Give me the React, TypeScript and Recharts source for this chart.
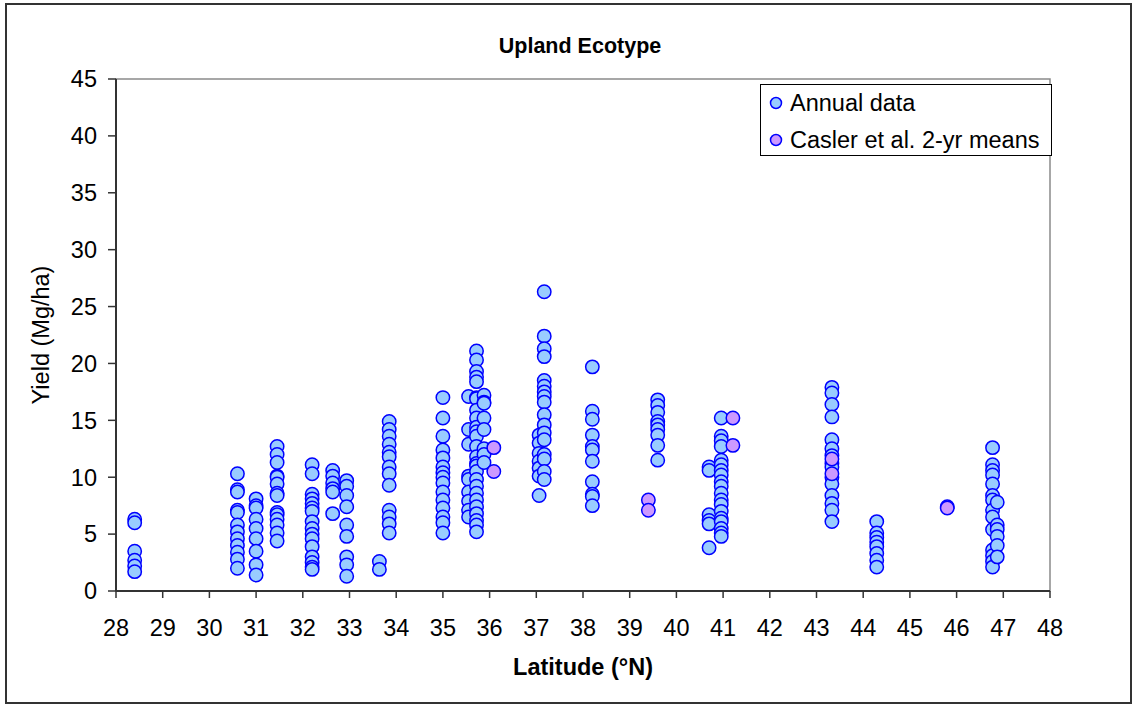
import React from "react";
import { ScatterChart, Scatter, XAxis, YAxis, Legend, ReferenceArea } from "recharts";

const annualLatitudes = [28.4, 30.6, 31.0, 31.45, 32.2, 32.64, 32.94, 33.64, 33.85, 35.0, 35.55, 35.72, 35.88, 37.06, 37.17, 38.2, 39.6, 40.7, 40.96, 43.33, 44.29, 46.77, 46.87];
const annualYields: number[][] = [
  [6.3, 6.0, 3.5, 2.7, 2.2, 1.7],
  [10.3, 8.9, 8.7, 7.1, 6.9, 5.8, 5.2, 4.6, 4.0, 3.4, 2.8, 2.0],
  [8.1, 7.5, 7.3, 6.3, 5.5, 4.6, 3.5, 2.3, 1.4],
  [12.7, 12.0, 11.3, 10.1, 10.0, 9.4, 8.6, 8.4, 6.9, 6.7, 6.3, 5.8, 5.1, 4.4],
  [11.1, 10.3, 8.5, 8.1, 7.7, 7.3, 7.0, 6.1, 5.5, 5.0, 4.6, 3.9, 3.0, 2.5, 2.1, 1.9],
  [10.6, 10.1, 9.5, 9.0, 8.7, 6.8],
  [9.7, 9.2, 8.4, 7.4, 5.8, 4.8, 3.0, 2.3, 1.3],
  [2.6, 1.9],
  [14.9, 14.2, 13.6, 12.9, 12.2, 11.8, 10.9, 10.3, 9.3, 7.1, 6.5, 5.9, 5.1],
  [17.0, 15.2, 13.6, 12.4, 11.7, 10.9, 10.4, 10.0, 9.5, 8.7, 8.0, 7.3, 6.5, 6.0, 5.1],
  [17.1, 14.2, 12.9, 10.1, 9.8, 8.7, 7.9, 7.1, 6.5],
  [21.1, 20.3, 19.3, 18.8, 18.4, 17.0, 16.9, 15.9, 15.2, 14.4, 14.0, 13.6, 12.7, 11.8, 11.2, 11.0, 10.5, 9.8, 9.2, 8.6, 8.0, 7.4, 6.8, 6.2, 5.8, 5.2],
  [17.2, 16.6, 16.5, 15.2, 14.2, 12.5, 12.0, 11.3],
  [13.7, 13.0, 12.1, 11.4, 10.8, 10.1, 8.4],
  [26.3, 22.4, 21.3, 20.6, 18.5, 18.0, 17.5, 17.1, 16.6, 15.5, 14.6, 13.9, 13.3, 12.0, 11.6, 10.5, 9.8],
  [19.7, 15.8, 15.1, 13.7, 12.7, 12.4, 11.4, 9.6, 8.5, 8.3, 7.5],
  [16.8, 16.3, 15.7, 14.9, 14.6, 14.2, 13.7, 12.8, 11.5],
  [10.9, 10.6, 6.7, 6.2, 5.9, 3.8],
  [15.2, 13.6, 13.2, 12.7, 11.5, 11.1, 10.6, 10.2, 9.6, 9.2, 8.6, 8.0, 7.6, 7.0, 6.4, 6.1, 5.5, 5.1, 4.8],
  [17.9, 17.4, 16.4, 15.3, 13.3, 12.5, 11.9, 11.2, 10.9, 10.0, 9.4, 8.4, 7.7, 7.1, 6.1],
  [6.1, 5.1, 4.7, 4.3, 3.9, 3.3, 2.7, 2.1],
  [12.6, 11.1, 10.6, 10.2, 9.4, 8.4, 8.0, 7.1, 6.5, 5.4, 3.6, 3.1, 2.6, 2.1],
  [7.8, 5.8, 5.4, 4.8, 4.0, 3.0],
];

const caslerLatitudes = [36.09, 39.4, 41.21, 43.33, 45.8];
const caslerYields: number[][] = [
  [12.6, 10.5],
  [8.0, 7.1],
  [15.2, 12.8],
  [11.6, 10.3],
  [7.4, 7.3],
];

const xTicks = [28, 29, 30, 31, 32, 33, 34, 35, 36, 37, 38, 39, 40, 41, 42, 43, 44, 45, 46, 47, 48];
const yTicks = [0, 5, 10, 15, 20, 25, 30, 35, 40, 45];

const titleText = "Upland Ecotype";
const xLabel = "Latitude (°N)";
const yLabel = "Yield (Mg/ha)";
const annualName = "Annual data";
const caslerName = "Casler et al. 2-yr means";

const build = (lats: number[], ys: number[][]) =>
  lats.flatMap((lat, i) => ys[i].map((y) => ({ lat, y })));

const annualData = build(annualLatitudes, annualYields);
const caslerData = build(caslerLatitudes, caslerYields);

const FONT = "Arial, 'Liberation Sans', sans-serif";
const BLUE_FILL = "#99CCFF";
const PURPLE_FILL = "#CC99FF";
const STROKE = "#0000FF";

const makeShape = (fill: string) => (props: any) => (
  <circle cx={props.cx} cy={props.cy} r={6.7} fill={fill} stroke={STROKE} strokeWidth={1.5} />
);

const LegendBox = () => (
  <div
    style={{
      width: 292,
      height: 72,
      border: "1px solid #000",
      background: "#fff",
      boxSizing: "border-box",
      fontFamily: FONT,
      fontSize: 23.5,
      position: "relative",
      color: "#000",
    }}
  >
    {[
      { name: annualName, fill: BLUE_FILL, top: 0 },
      { name: caslerName, fill: PURPLE_FILL, top: 37 },
    ].map((it) => (
      <div key={it.name} style={{ position: "absolute", left: 7, top: it.top + 2, height: 32, display: "flex", alignItems: "center", whiteSpace: "nowrap" }}>
        <svg width={16} height={16} style={{ marginRight: 6 }}>
          <circle cx={8} cy={8} r={5.5} fill={it.fill} stroke={STROKE} strokeWidth={1.5} />
        </svg>
        <span>{it.name}</span>
      </div>
    ))}
  </div>
);

export default function App() {
  return (
    <div style={{ position: "absolute", left: 0, top: 0, width: 1136, height: 709, background: "#fff" }}>
      <div
        style={{
          position: "absolute",
          left: 5,
          top: 3,
          width: 1127,
          height: 701,
          border: "2px solid #333",
          boxSizing: "border-box",
        }}
      />
      <div style={{ position: "absolute", left: 0, top: 0 }}>
        <ScatterChart
          width={1136}
          height={709}
          margin={{ top: 79, right: 86, bottom: 88, left: 76 }}
        >
          <ReferenceArea x1={28} x2={48} y1={0} y2={45} fill="none" stroke="#8a8a8a" strokeWidth={1.5} ifOverflow="visible" />
          <XAxis
            type="number"
            dataKey="lat"
            domain={[28, 48]}
            ticks={xTicks}
            interval={0}
            height={30}
            tickSize={7}
            tickMargin={21}
            axisLine={{ stroke: "#333", strokeWidth: 2 }}
            tickLine={{ stroke: "#333", strokeWidth: 1.5 }}
            tick={{ fill: "#000", fontSize: 23.5, fontFamily: FONT }}
            allowDataOverflow
          />
          <YAxis
            type="number"
            dataKey="y"
            domain={[0, 45]}
            ticks={yTicks}
            interval={0}
            width={40}
            tickSize={8}
            tickMargin={11}
            axisLine={{ stroke: "#333", strokeWidth: 2 }}
            tickLine={{ stroke: "#333", strokeWidth: 1.5 }}
            tick={{ fill: "#000", fontSize: 23.5, fontFamily: FONT }}
            allowDataOverflow
          />
          <Legend
            layout="vertical"
            align="center"
            verticalAlign="middle"
            content={() => <LegendBox />}
            wrapperStyle={{ position: "absolute", left: 760, top: 84, width: 292, height: 72 }}
          />
          <Scatter name={annualName} data={annualData} shape={makeShape(BLUE_FILL)} isAnimationActive={false} />
          <Scatter name={caslerName} data={caslerData} shape={makeShape(PURPLE_FILL)} isAnimationActive={false} />
          <text x={580} y={53} textAnchor="middle" fontFamily={FONT} fontWeight="bold" fontSize={21.5} fill="#000">
            {titleText}
          </text>
          <text x={583} y={675} textAnchor="middle" fontFamily={FONT} fontWeight="bold" fontSize={23.5} fill="#000">
            {xLabel}
          </text>
          <text
            x={49}
            y={335}
            textAnchor="middle"
            fontFamily={FONT}
            fontSize={23.5}
            fill="#000"
            transform="rotate(-90 49 335)"
          >
            {yLabel}
          </text>
        </ScatterChart>
      </div>
    </div>
  );
}
